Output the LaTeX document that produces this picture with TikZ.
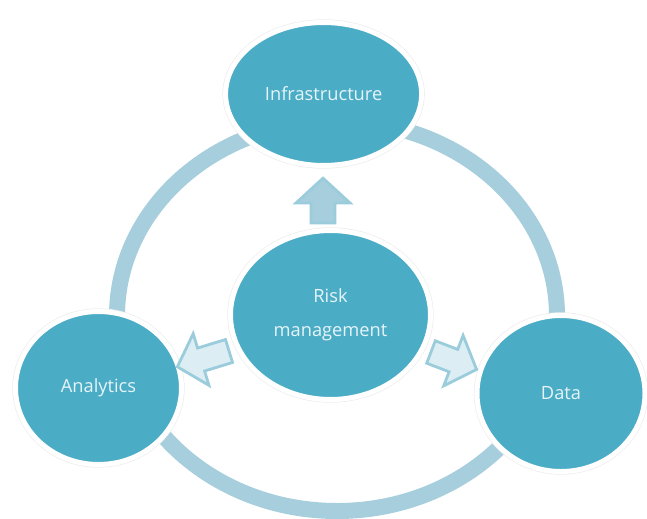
\documentclass[tikz,border=0pt]{standalone}
\usepackage{fontspec}
\setmainfont{Open Sans}
\usetikzlibrary{shapes.geometric}
\definecolor{rmteal}{HTML}{4BACC6}
\definecolor{rmring}{HTML}{A6CEDD}
\definecolor{rmpale}{HTML}{DCEEF4}
\definecolor{rmedge}{HTML}{9ACCDC}
\definecolor{rmtext}{HTML}{E6F4F8}

\begin{document}
\begin{tikzpicture}[font=\fontsize{13}{24}\selectfont,
          hub/.style={ellipse, fill=rmteal, draw=white, line width=.125cm, text=rmtext, align=center,
                      preaction={draw=black!7, line width=.16cm}},
          push/.style={draw=rmedge, line width=.07cm, fill=rmpale},
          pics/blockarrow/.style={code={
            \path[pic actions] (0,-.3) -- (#1-.62,-.3) -- (#1-.62,-.675) -- (#1,0)
                               -- (#1-.62,.675) -- (#1-.62,.3) -- (0,.3) -- cycle;}}]
  \useasboundingbox (0,0) rectangle (16.175,12.95);
  % ring running behind the outer circles
  \coordinate (o) at (8.425,5.05);
  \draw[rmring, line width=.4cm] (o) ellipse (5.5cm and 4.875cm);
  \node[hub, minimum width=4.9cm, minimum height=3.575cm] (infra) at (8.09,10.6) {Infrastructure};
  \node[hub, minimum width=5cm, minimum height=4.225cm] (risk) at (8.2625,5.075) {Risk\\management};
  \node[hub, minimum width=4.15cm, minimum height=3.825cm] (ana) at (2.4625,3.25) {Analytics};
  \node[hub, minimum width=4.2cm, minimum height=3.9cm] (data) at (14.025,3.1125) {Data};
  % block arrows out of the middle circle
  \pic[push, fill=rmring, rotate=90] (toinfra) at (8.075,7.375) {blockarrow=1.12};
  \pic[push, rotate=197] (toana) at (5.725,4.175) {blockarrow=1.35};
  \pic[push, rotate=-21] (todata) at (10.775,4.15) {blockarrow=1.22};
\end{tikzpicture}
\end{document}
